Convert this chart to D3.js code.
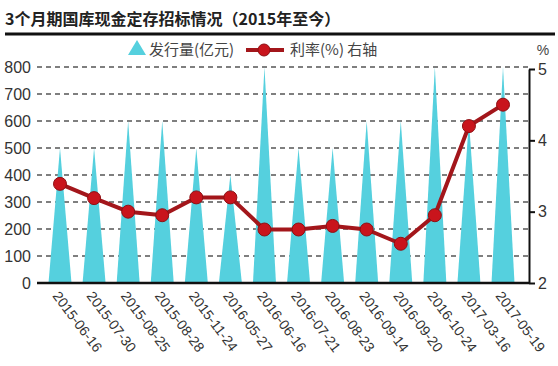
<!DOCTYPE html>
<html>
<head>
<meta charset="utf-8">
<script src="https://cdn.jsdelivr.net/npm/d3@7"></script>
<style>
body { margin: 0; background: #fff; }
text { font-family: "Liberation Sans", Arial, "Noto Sans CJK SC", sans-serif; }
.cjk { font-family: "Noto Sans CJK SC", sans-serif; }
.grid line { stroke: #555; stroke-width: 1.5px; stroke-dasharray: 5,4; }
</style>
</head>
<body>
<svg id="chart" width="558" height="366"></svg>
<script>
// data
var dates = ["2015-06-16","2015-07-30","2015-08-25","2015-08-28","2015-11-24","2016-05-27","2016-06-16",
             "2016-07-21","2016-08-23","2016-09-14","2016-09-20","2016-10-24","2017-03-16","2017-05-19"];
var amount = [500, 500, 600, 600, 500, 400, 800, 500, 500, 600, 600, 800, 600, 800];   // 亿元
var rate = [3.39, 3.19, 3.0, 2.95, 3.2, 3.2, 2.75, 2.75, 2.8, 2.75, 2.55, 2.95, 4.2, 4.5]; // %
var leftTicks = [0, 100, 200, 300, 400, 500, 600, 700, 800];
var rightTicks = [2, 3, 4, 5];

var svg = d3.select("#chart");
var plot = {left: 37, right: 529, top: 67, bottom: 283};

var x = d3.scalePoint().domain(dates).range([60, 503]);
var y = d3.scaleLinear().domain([0, 800]).range([plot.bottom, plot.top]);
var y2 = d3.scaleLinear().domain([2, 5]).range([plot.bottom, plot.top + 2]);
var halfBase = 11.5;

/// title and rule
svg.append("text").attr("class", "cjk")
    .attr("x", 5).attr("y", 25)
    .style("font-size", "16px").style("font-weight", "bold").attr("fill", "#222")
    .text("3个月期国库现金定存招标情况（2015年至今）");
svg.append("line").attr("x1", 5).attr("x2", 555).attr("y1", 34).attr("y2", 34)
    .attr("stroke", "#111").attr("stroke-width", 3);

/// legend
var lg = svg.append("g");
lg.append("path").attr("d", "M137,40 L146,55 L128,55 Z").attr("fill", "#55d0de");
lg.append("text").attr("class", "cjk").attr("x", 149).attr("y", 55)
    .style("font-size", "15px").attr("fill", "#444").text("发行量(亿元)");
lg.append("line").attr("x1", 246).attr("x2", 284).attr("y1", 50).attr("y2", 50)
    .attr("stroke", "#a3161b").attr("stroke-width", 4);
lg.append("circle").attr("cx", 264).attr("cy", 50).attr("r", 6)
    .attr("fill", "#c9141c").attr("stroke", "#8e1014").attr("stroke-width", 1);
lg.append("text").attr("class", "cjk").attr("x", 290).attr("y", 55)
    .style("font-size", "15px").attr("fill", "#444").text("利率(%) 右轴");
svg.append("text").attr("x", 543).attr("y", 55).attr("text-anchor", "middle")
    .style("font-size", "14px").attr("fill", "#444").text("%");

/// grid
svg.append("g").attr("class", "grid")
  .selectAll("line").data(leftTicks.slice(1)).join("line")
    .attr("x1", plot.left).attr("x2", plot.right)
    .attr("y1", d => y(d)).attr("y2", d => y(d));

/// triangles
svg.append("g").selectAll("path").data(amount).join("path")
    .attr("fill", "#55d0de")
    .attr("d", (d, i) => {
        var cx = x(dates[i]);
        return "M" + (cx - halfBase) + "," + y(0) + "L" + cx + "," + y(d) + "L" + (cx + halfBase) + "," + y(0) + "Z";
    });

/// left axis labels
var yAxis = d3.axisLeft(y).tickValues(leftTicks).tickSize(0).tickPadding(6);
var gy = svg.append("g").attr("transform", "translate(" + plot.left + ",0)").call(yAxis);
gy.select(".domain").remove();
gy.selectAll("text").style("font-size", "16px").attr("fill", "#333");

/// zero line
svg.append("line").attr("x1", plot.left).attr("x2", plot.right)
    .attr("y1", y(0)).attr("y2", y(0)).attr("stroke", "#111").attr("stroke-width", 2.5);

/// right axis
var yAxis2 = d3.axisRight(y2).tickValues(rightTicks).tickFormat(d3.format("d"))
    .tickSize(6).tickPadding(3).tickSizeOuter(0);
var gy2 = svg.append("g").attr("transform", "translate(" + plot.right + ",0)").call(yAxis2);
gy2.select(".domain").attr("stroke", "#111").attr("stroke-width", 2);
gy2.selectAll(".tick line").attr("stroke", "#111").attr("stroke-width", 2);
gy2.selectAll("text").style("font-size", "16px").attr("fill", "#333");

/// rate line
var line = d3.line().x((d, i) => x(dates[i])).y(d => y2(d));
svg.append("path").datum(rate).attr("d", line)
    .attr("fill", "none").attr("stroke", "#a3161b").attr("stroke-width", 4).attr("stroke-linejoin", "round");
svg.append("g").selectAll("circle").data(rate).join("circle")
    .attr("cx", (d, i) => x(dates[i])).attr("cy", d => y2(d)).attr("r", 6.5)
    .attr("fill", "#c9141c").attr("stroke", "#8e1014").attr("stroke-width", 1);

/// x labels
svg.append("g").selectAll("text").data(dates).join("text")
    .attr("transform", d => "translate(" + (x(d) - 8) + "," + 296 + ") rotate(53)")
    .style("font-size", "14px").attr("fill", "#333")
    .text(d => d);
</script>
</body>
</html>
